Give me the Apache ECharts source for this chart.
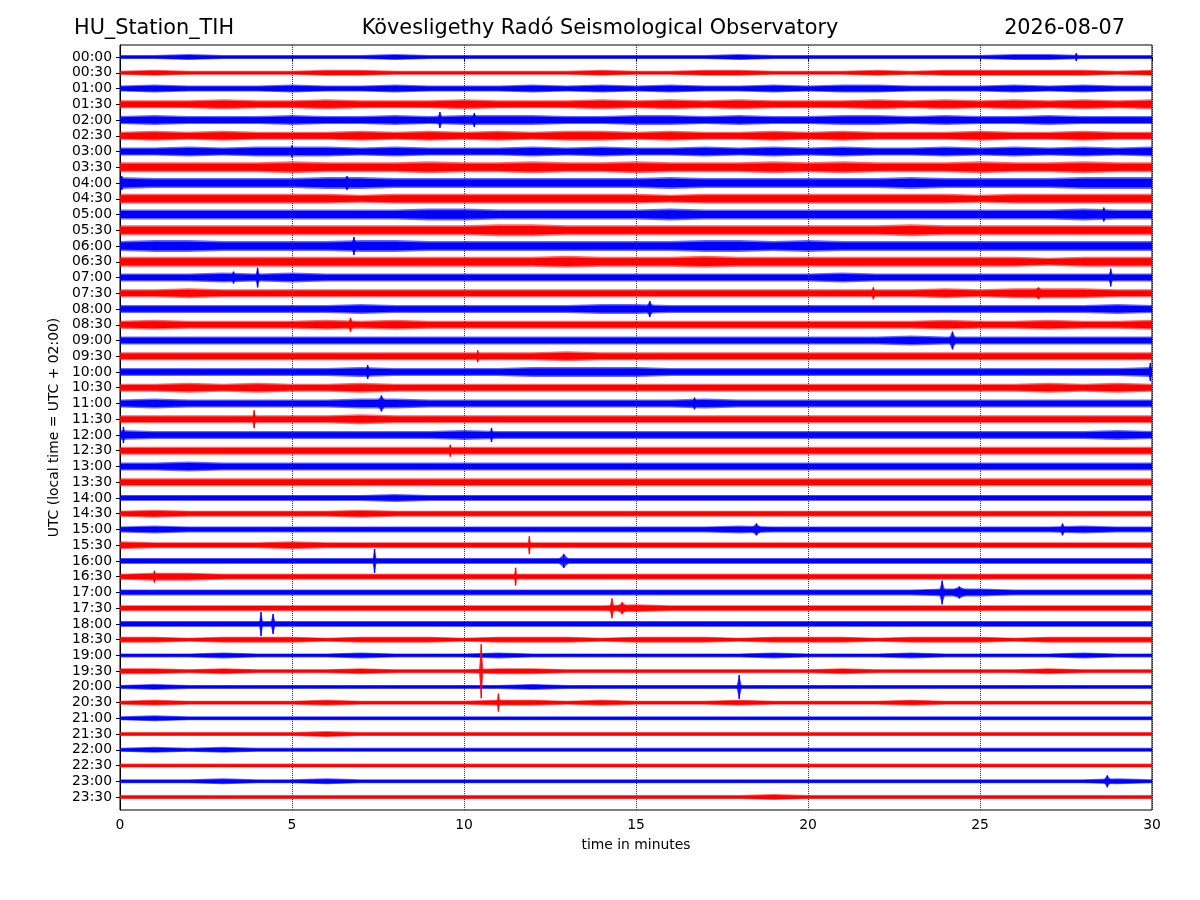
<!DOCTYPE html>
<html><head><meta charset="utf-8">
<script src="https://cdn.jsdelivr.net/npm/echarts@6/dist/echarts.min.js"></script>
<style>html,body{margin:0;padding:0;background:#fff}#chart{width:1200px;height:900px}</style>
</head><body><div id="chart"></div>
<script>
// Row labels (UTC start time of each 30-minute trace)
const TIME_LABELS = ['00:00','00:30','01:00','01:30','02:00','02:30','03:00','03:30','04:00','04:30','05:00','05:30',
  '06:00','06:30','07:00','07:30','08:00','08:30','09:00','09:30','10:00','10:30','11:00','11:30',
  '12:00','12:30','13:00','13:30','14:00','14:30','15:00','15:30','16:00','16:30','17:00','17:30',
  '18:00','18:30','19:00','19:30','20:00','20:30','21:00','21:30','22:00','22:30','23:00','23:30'];
const X_TICKS = [0, 5, 10, 15, 20, 25, 30];
// Background noise envelope (half amplitude) of each trace, one digit per minute 0..30
const ENVELOPES = [
  '22322 22232 22222 22232 22222 23322 2',
  '23222 23322 22223 22332 22323 33332 3',
  '34333 43343 33434 34334 34433 34343 3',
  '44454 45444 54445 45454 44545 45454 5',
  '45444 54454 55544 55454 45545 44544 4',
  '45454 44545 45455 45445 45444 54454 4',
  '44545 55454 44545 44545 45445 45454 5',
  '55555 65556 55655 65556 56555 65565 5',
  '65555 56655 55555 56555 55565 55566 6',
  '55555 55455 55555 54555 55555 45555 5',
  '55555 55556 65555 56555 55555 55565 5',
  '55555 55555 56655 55555 55565 55555 5',
  '56655 55665 55555 55665 65555 55555 5',
  '55555 55555 55565 55655 55555 55455 5',
  '44454 54444 44444 44444 45444 44444 4',
  '44544 44444 44444 44444 44445 45554 4',
  '44444 44544 44445 54444 44444 44445 4',
  '45444 45454 44444 44444 44445 44544 5',
  '44444 44444 44444 44444 44454 44444 4',
  '44444 44444 44454 44444 44444 44444 4',
  '44444 44544 44555 54444 44444 44444 5',
  '44545 44544 44444 44444 44444 44545 4',
  '45444 44554 44444 44544 44444 44444 4',
  '44444 44544 44444 44444 44444 44444 4',
  '54444 44444 54444 44444 44444 44445 4',
  '44444 44444 44444 44444 44444 44444 4',
  '44544 44444 44444 44444 44444 44444 4',
  '44444 44444 44444 44444 44444 44444 4',
  '33333 33343 33333 33333 33333 33333 3',
  '34333 33433 33333 33333 33333 33333 3',
  '34333 33333 33333 33343 33333 33343 3',
  '43333 43333 33333 33333 33333 33333 3',
  '33333 33333 33333 33333 33333 33333 3',
  '34433 33333 33333 33333 33333 33333 3',
  '33333 33333 33333 33333 33334 43333 3',
  '33333 33333 33333 43333 33333 33333 3',
  '33333 33333 33333 33333 33333 33333 3',
  '33233 32333 23332 33323 33233 32333 3',
  '22232 22322 23222 22223 22232 22232 2',
  '33232 22322 23322 22222 23222 22322 2',
  '23222 22222 22322 22222 22222 22222 2',
  '23222 23222 23323 22232 22232 22222 2',
  '23222 22222 22222 22222 22222 22222 2',
  '22222 23222 22222 22222 22222 22222 2',
  '23232 22222 22222 22222 22222 22222 2',
  '22222 22222 22222 22222 22222 22222 2',
  '22232 23222 22222 22222 22222 22223 2',
  '22222 22222 22222 22223 22222 22222 2'
];
// Transient events: [trace index, minute, half amplitude, half duration (min)]
const EVENTS = [
  [0, 27.8, 4, 0.1], [4, 9.3, 8, 0.15], [4, 10.3, 7, 0.15], [6, 5.0, 6, 0.1],
  [8, 0.05, 7, 0.15], [8, 6.6, 7, 0.2], [10, 28.6, 7, 0.15], [12, 6.8, 9, 0.15],
  [14, 3.3, 6, 0.15], [14, 4.0, 10, 0.12], [14, 28.8, 9, 0.12], [15, 21.9, 6, 0.15],
  [15, 26.7, 6, 0.3], [16, 15.4, 8, 0.2], [17, 6.7, 7, 0.15], [18, 24.2, 9, 0.2],
  [19, 10.4, 6, 0.1], [20, 7.2, 7, 0.15], [20, 29.95, 9, 0.1], [22, 7.6, 8, 0.25],
  [22, 16.7, 6, 0.15], [23, 3.9, 9, 0.1], [24, 0.1, 8, 0.1], [24, 10.8, 7, 0.1],
  [25, 9.6, 6, 0.1], [30, 18.5, 6, 0.3], [30, 27.4, 6, 0.15], [31, 11.9, 9, 0.08],
  [32, 7.4, 12, 0.1], [32, 12.9, 7, 0.3], [33, 1.0, 6, 0.1], [33, 11.5, 9, 0.08],
  [34, 23.9, 12, 0.15], [34, 24.4, 6, 0.5], [35, 14.3, 10, 0.12], [35, 14.6, 6, 0.3],
  [36, 4.1, 12, 0.1], [36, 4.45, 10, 0.12], [39, 10.5, 27, 0.1], [40, 18.0, 12, 0.12],
  [41, 11.0, 9, 0.08], [46, 28.7, 6, 0.2]
];
const TRACE_SPAN = 15.74; // amplitude counts per trace spacing
const COLORS = ['#0000ff', '#ff0000'];
const FONT = 'DejaVu Sans';

const ENV = ENVELOPES.map(s => s.replace(/ /g, '').split('').map(Number));
const Y_TICKS = TIME_LABELS.map((_, i) => i);

function renderBand(params, api) {
  const i = api.value(1);
  const env = ENV[i];
  const color = COLORS[i % 2];
  const top = [], bot = [], itop = [], ibot = [];
  for (let k = 0; k < env.length; k++) {
    const a = env[k] / TRACE_SPAN;
    top.push(api.coord([k, i - a]));
    bot.push(api.coord([k, i + a]));
    itop.push(api.coord([k, i - a * 0.7]));
    ibot.push(api.coord([k, i + a * 0.7]));
  }
  return { type: 'group', children: [
    { type: 'polygon', shape: { points: top.concat(bot.reverse()) }, style: { fill: color, opacity: 0.6 } },
    { type: 'polygon', shape: { points: itop.concat(ibot.reverse()) }, style: { fill: color } }
  ]};
}
function renderEvent(params, api) {
  const i = api.value(0), t = api.value(1), a = api.value(2) / TRACE_SPAN, d = api.value(3) * 0.7;
  const color = COLORS[i % 2];
  const p = [api.coord([t - d, i]), api.coord([t, i - a]), api.coord([t + d, i]), api.coord([t, i + a])];
  return { type: 'group', children: [
    { type: 'polygon', shape: { points: p }, style: { fill: color, opacity: 0.75 } },
    { type: 'line', shape: { x1: p[1][0], y1: p[1][1], x2: p[3][0], y2: p[3][1] }, style: { stroke: color, lineWidth: 1.5 } }
  ]};
}

const chart = echarts.init(document.getElementById('chart'), null, { renderer: 'canvas' });
const titleStyle = { fontFamily: FONT, fontSize: 20.8, fontWeight: 'normal', color: '#000' };
chart.setOption({
  animation: false,
  backgroundColor: '#fff',
  title: [
    { text: 'HU_Station_TIH', left: 74, top: 18, padding: 0, textStyle: titleStyle },
    { text: 'Kövesligethy Radó Seismological Observatory', left: 'center', top: 18, padding: 0, textStyle: titleStyle },
    { text: '2026-08-07', right: 75, top: 18, padding: 0, textStyle: titleStyle }
  ],
  grid: { left: 120, right: 48, top: 45, bottom: 90, show: true, borderColor: '#000', borderWidth: 1, backgroundColor: 'transparent' },
  xAxis: {
    type: 'value', min: 0, max: 30, interval: 5,
    name: 'time in minutes', nameLocation: 'middle', nameGap: 28,
    nameTextStyle: { fontFamily: FONT, fontSize: 13.9, color: '#000' },
    axisLine: { show: true, lineStyle: { color: '#000' } },
    axisTick: { show: true, length: 4, lineStyle: { color: '#000' } },
    axisLabel: { fontFamily: FONT, fontSize: 13.9, color: '#000', margin: 8, formatter: v => String(v) },
    splitLine: { show: true, lineStyle: { type: 'dotted', color: '#333', width: 1 } }
  },
  yAxis: {
    type: 'value', inverse: true, min: -0.77, max: 47.82,
    name: 'UTC (local time = UTC + 02:00)', nameLocation: 'middle', nameGap: 56, nameRotate: 90,
    nameTextStyle: { fontFamily: FONT, fontSize: 13.9, color: '#000' },
    axisLine: { show: true, lineStyle: { color: '#000' } },
    axisTick: { show: true, length: 4, customValues: Y_TICKS, lineStyle: { color: '#000' } },
    axisLabel: { customValues: Y_TICKS, formatter: v => TIME_LABELS[Math.round(v)], fontFamily: FONT, fontSize: 13.9, color: '#000', margin: 8 },
    splitLine: { show: false }
  },
  series: [
    { type: 'custom', renderItem: renderBand, clip: true, encode: { x: 0, y: 1 },
      data: TIME_LABELS.map((_, i) => [X_TICKS[0], i]) },
    { type: 'custom', renderItem: renderEvent, clip: true, encode: { x: 1, y: 0 },
      data: EVENTS }
  ]
});
</script>
</body></html>
